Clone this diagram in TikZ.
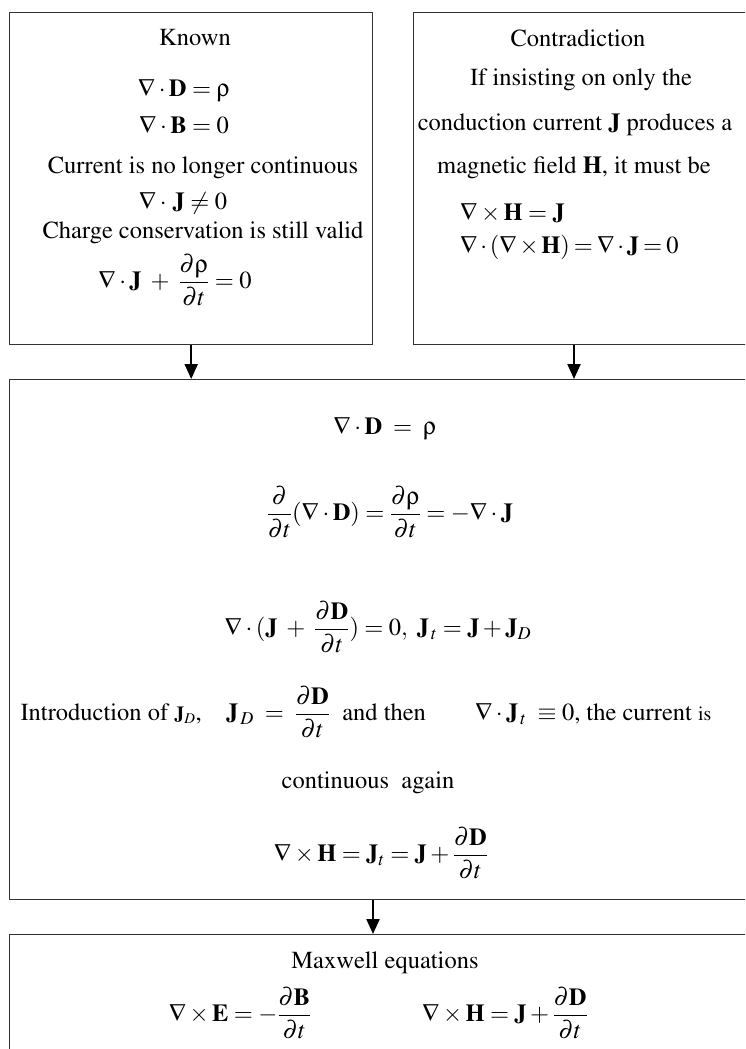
\documentclass[tikz,border=0pt]{standalone}
\usepackage[T1]{fontenc}
\usepackage{mathptmx}
\usepackage{amsmath}
\usetikzlibrary{arrows.meta}
\DeclareSymbolFont{uppsy}{U}{psy}{m}{n}
\DeclareMathSymbol{\uprho}{\mathord}{uppsy}{`r}
\tikzset{
  box/.style={draw=black!80,line width=1.4pt,anchor=north west,inner sep=0pt},
  arr/.style={line width=2.2pt,-{Triangle[length=15pt,width=13pt]}},
  tight/.style={execute at begin node={\medmuskip=2mu\thickmuskip=3mu}}
}
\begin{document}
\begin{tikzpicture}[x=1pt,y=-1pt,every node/.style={font=\fontsize{24.5}{29}\selectfont,inner sep=0pt}]
\useasboundingbox (0,0) rectangle (745,1049);
\clip (0,0) rectangle (745,1049);
\node[box,minimum width=363pt,minimum height=332pt] (known) at (9,12) {};
\node[box,minimum width=360pt,minimum height=332pt] (contra) at (413,12) {};
\node[box,minimum width=760pt,minimum height=520pt] (derive) at (9,379) {};
\node[box,minimum width=760pt,minimum height=140pt] (maxw) at (9,934) {};
\coordinate (ca) at ([xshift=161pt]contra.south west);
\coordinate (da) at ([xshift=364pt]derive.south west);
\draw[arr] (known.south) -- (known.south |- derive.north);
\draw[arr] (ca) -- (ca |- derive.north);
\draw[arr] (da) -- (da |- maxw.north);
\node (kt) at (195,38) {Known};
\node (k1) at (184,90) {$\nabla\cdot\mathbf{D}=\uprho$};
\node (k2) at (184,125) {$\nabla\cdot\mathbf{B}=0$};
\node (k3) at (203,168) {Current is no longer continuous};
\node (k4) at (183,203) {$\nabla\cdot\,\mathbf{J}\neq0$};
\node (k5) at (203,233) {Charge conservation is still valid};
\node (k6) at (175,280) {$\displaystyle\nabla\cdot\mathbf{J}\;+\;\frac{\partial\uprho}{\partial t}=0$};
\node (ct) at (578,38) {Contradiction};
\node (ct1) at (581,80) {If insisting on only the};
\node (ct2) at (575,125) {conduction current \textbf{J} produces a};
\node (ct3) at (574,168) {magnetic field \textbf{H}, it must be};
\node[anchor=west] (ct4) at (460,213) {$\nabla\times\mathbf{H}=\mathbf{J}$};
\node[anchor=west,tight] (ct5) at (460,247) {$\nabla\cdot(\nabla\times\mathbf{H})=\nabla\cdot\mathbf{J}=0$};
\node (d1) at (385,428) {$\nabla\cdot\mathbf{D}\;=\;\uprho$};
\node (d2) at (390,512) {$\displaystyle\frac{\partial}{\partial t}(\nabla\cdot\mathbf{D})=\frac{\partial\uprho}{\partial t}=-\nabla\cdot\mathbf{J}$};
\node (d3) at (378,627) {$\displaystyle\nabla\cdot(\mathbf{J}\;+\;\frac{\partial\mathbf{D}}{\partial t})=0,\ \mathbf{J}_{\,t}=\mathbf{J}+\mathbf{J}_D$};
\node (d4) at (366,712) {Introduction of {\fontsize{20}{24}\selectfont$\mathbf{J}_D$},\quad$\displaystyle\mathbf{J}_{\,D}\;=\;\frac{\partial\mathbf{D}}{\partial t}$\ \ and then\qquad$\nabla\cdot\mathbf{J}_{\,t}\;\equiv0$, the current {\fontsize{20}{24}\selectfont is}};
\node (d5) at (368,783) {continuous\ \ again};
\node (d6) at (381,853) {$\displaystyle\nabla\times\mathbf{H}=\mathbf{J}_t=\mathbf{J}+\frac{\partial\mathbf{D}}{\partial t}$};
\node (mt) at (385,963) {Maxwell equations};
\node (m1) at (240,1013) {$\displaystyle\nabla\times\mathbf{E}=-\frac{\partial\mathbf{B}}{\partial t}$};
\node (m2) at (505,1013) {$\displaystyle\nabla\times\mathbf{H}=\mathbf{J}+\frac{\partial\mathbf{D}}{\partial t}$};
\end{tikzpicture}
\end{document}
